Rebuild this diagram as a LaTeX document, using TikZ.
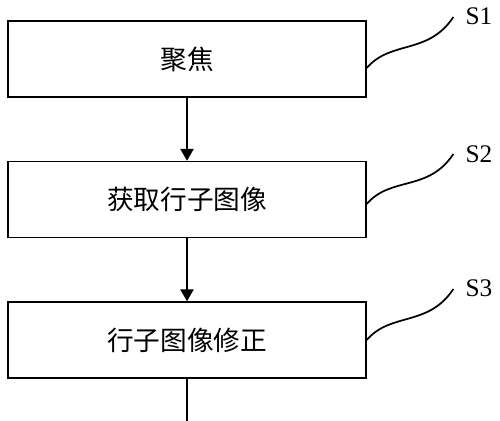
\documentclass[tikz,border=0pt]{standalone}
\usepackage{fontspec}
\newfontfamily\cjk{Noto Sans CJK SC}
\newfontfamily\labelfont{Liberation Serif}
\usetikzlibrary{arrows.meta, positioning, calc}

\begin{document}
\begin{tikzpicture}[
  x=0.75pt, y=-0.75pt,
  >={Triangle[length=9pt, width=10pt]},
  stepbox/.style={draw, line width=1.1pt, minimum width=268.5pt, minimum height=57pt,
    inner sep=0pt, font=\cjk\fontsize{20}{24}\selectfont},
  steplabel/.style={font=\labelfont\fontsize{19}{22}\selectfont, inner sep=0pt},
  leader/.style={line width=1.3pt},
]
\useasboundingbox (0,0) rectangle (500,421);

% Steps
\node[stepbox] (focus)   at (187,59)  {聚焦};
\node[stepbox] (acquire) at (187,199.5) {获取行子图像};
\node[stepbox] (correct) at (187,340) {行子图像修正};

% Flow
\draw[->, line width=1.1pt] (focus) -- (acquire);
\draw[->, line width=1.1pt] (acquire) -- (correct);
\coordinate (exit) at (187,421);
\draw[line width=1.1pt] (correct) -- (exit);

% Step labels
\node[steplabel] (s1) at (479,16)  {S1};
\node[steplabel] (s2) at (479,154) {S2};
\node[steplabel] (s3) at (479,288) {S3};

% Leaders
\draw[leader] ($(focus.east)+(0,9)$)
  .. controls +(24,-28) and +(-25,38) .. ($(s1.west)+(-12,1)$);
\draw[leader] ($(acquire.east)+(0,4.5)$)
  .. controls +(24,-28) and +(-25,38) .. ($(s2.west)+(-12,0)$);
\draw[leader] (correct.east)
  .. controls +(24,-28) and +(-25,38) .. ($(s3.west)+(-12,1)$);

\end{tikzpicture}
\end{document}
